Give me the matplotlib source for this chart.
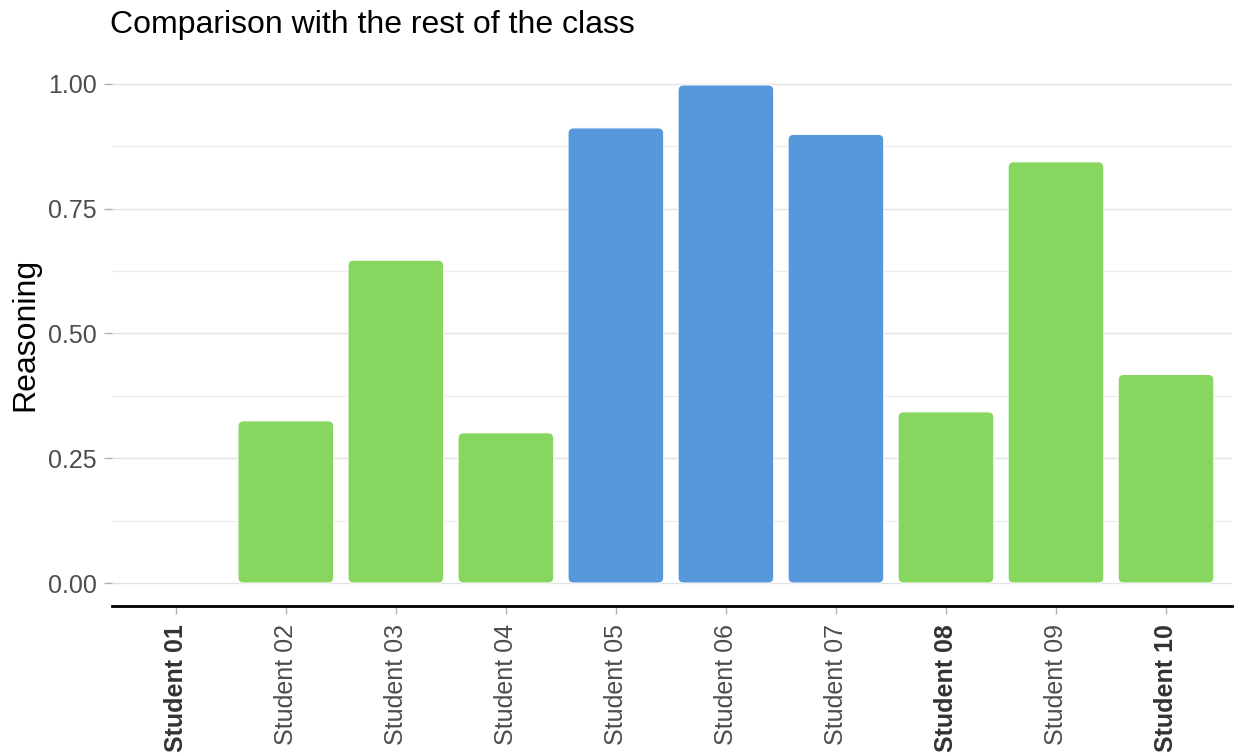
import matplotlib
matplotlib.use("Agg")
import matplotlib.pyplot as plt
from matplotlib.patches import FancyBboxPatch
from matplotlib.ticker import MultipleLocator

plt.rcParams['font.family'] = ['Liberation Sans', 'DejaVu Sans']

students = ["Student 01", "Student 02", "Student 03", "Student 04", "Student 05",
            "Student 06", "Student 07", "Student 08", "Student 09", "Student 10"]
values = [0.0, 0.325, 0.647, 0.301, 0.912, 0.998, 0.899, 0.343, 0.844, 0.418]
groups = ["orange", "green", "green", "green", "blue", "blue", "blue", "green", "green", "green"]
bold_labels = ["Student 01", "Student 08", "Student 10"]
palette = {"orange": "#F5A623", "green": "#86D65F", "blue": "#5698DB"}

fig = plt.figure(figsize=(12.36, 7.55), dpi=100)
ax = fig.add_axes([112/1236, 1-606/755, (1232-112)/1236, (606-59)/755])

x = list(range(len(students)))
bars = ax.bar(x, values, width=0.87, color=[palette[g] for g in groups], zorder=3)
ax.set_xlim(-0.58, len(students) - 1 + 0.6)
ax.set_ylim(-0.046, 1.05)

# replace bars with rounded versions
aspect = (1.0/499) / (1.0/110)
for b in bars:
    xx, yy = b.get_x(), b.get_y()
    w, h = b.get_width(), b.get_height()
    fc = b.get_facecolor()
    b.set_visible(False)
    if h > 0:
        p = FancyBboxPatch((xx, yy), w, h,
                           boxstyle="round,pad=0,rounding_size=0.05",
                           mutation_aspect=aspect, facecolor=fc,
                           edgecolor="white", linewidth=0.8, zorder=3)
        ax.add_patch(p)

ax.yaxis.set_minor_locator(MultipleLocator(0.125))
ax.set_yticks([0, 0.25, 0.5, 0.75, 1.0])
ax.set_yticklabels(["0.00", "0.25", "0.50", "0.75", "1.00"])
ax.grid(axis='y', which='major', color='#e2e2e2', linewidth=1.0, zorder=0)
ax.grid(axis='y', which='minor', color='#ececec', linewidth=0.8, zorder=0)
ax.tick_params(axis='y', which='major', colors='#b0b0b0', labelcolor='#4d4d4d',
               labelsize=18, length=6, width=1, pad=5)
ax.tick_params(axis='y', which='minor', length=0)

ax.set_xticks(x)
ax.set_xticklabels(students, rotation=90)
ax.tick_params(axis='x', colors='#b0b0b0', labelcolor='#4d4d4d', labelsize=18,
               length=6, width=1, pad=7)
for lbl in ax.get_xticklabels():
    if lbl.get_text() in bold_labels:
        lbl.set_fontweight('bold')
        lbl.set_color('#333333')

for s in ['top', 'right', 'left']:
    ax.spines[s].set_visible(False)
ax.spines['bottom'].set_color('black')
ax.spines['bottom'].set_linewidth(2)

ax.set_ylabel("")
fig.text(25/1236, 1-334/755, "Reasoning", fontsize=23, rotation=90,
         va='center', ha='center', color='black')
fig.text(110/1236, 1-25/755, "Comparison with the rest of the class",
         fontsize=23, va='center', ha='left', color='black')

fig.savefig("out.png", dpi=100, facecolor='white')
